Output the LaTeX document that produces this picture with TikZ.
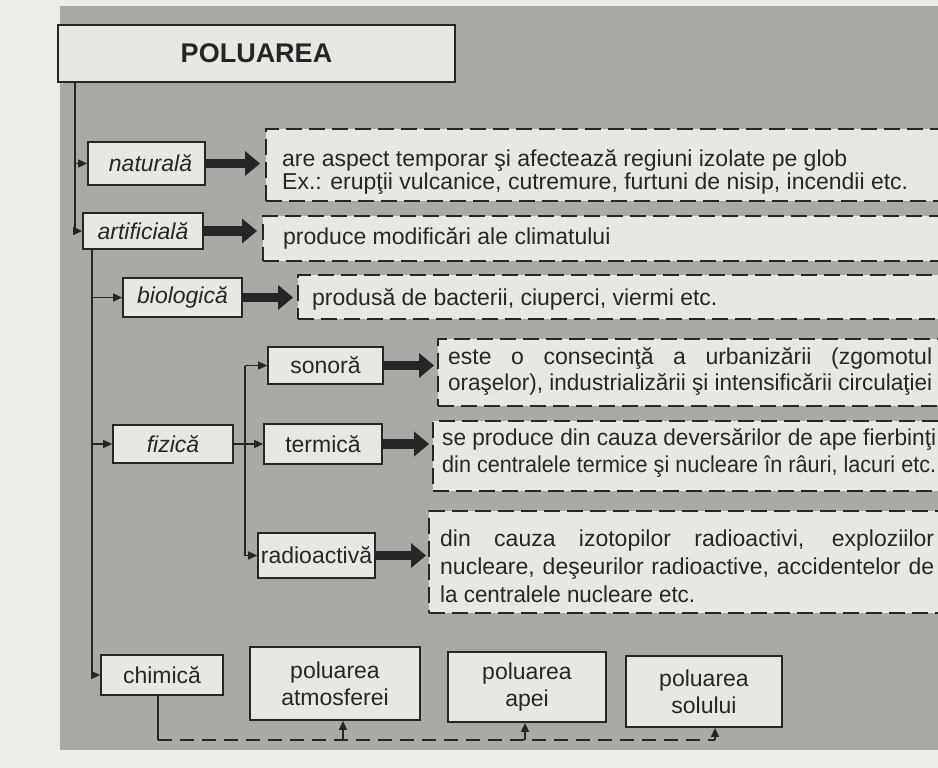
\documentclass[tikz,border=0pt]{standalone}
\usepackage{fontspec}
\usepackage{graphicx}
\setmainfont{Liberation Sans}
\usetikzlibrary{arrows.meta}
\definecolor{pagebg}{HTML}{EDEDEA}
\definecolor{panel}{HTML}{AAAAA5}
\definecolor{boxfill}{HTML}{E8E8E3}
\definecolor{ink}{HTML}{262626}
\newlength\fitlen
\newcommand\fitline[2]{\settowidth\fitlen{#2}\ifdim\fitlen>#1\relax\resizebox{#1}{\height}{#2}\else\makebox[#1][s]{#2}\fi}
\tikzset{
  txt/.style={font=\fontsize{23}{24}\selectfont, text=ink},
  box/.style={draw=ink, fill=boxfill, line width=1.7pt, inner sep=0pt, txt},
  lab/.style={box, font=\fontsize{23}{24}\selectfont\itshape},
  twoline/.style={box, align=center, font=\fontsize{23}{27}\selectfont},
  descbox/.style={draw=ink, fill=boxfill, line width=1.9pt, dash pattern=on 16pt off 7pt, inner sep=0pt, anchor=north west},
  link/.style={draw=ink, line width=1.5pt},
  thinarrow/.style={link, -{Triangle[length=9pt,width=8pt]}},
  bigarrow/.style={draw=ink, line width=9.5pt, -{Triangle[length=15pt,width=25pt,line width=0pt]}},
  dashline/.style={draw=ink, line width=1.7pt, dash pattern=on 14pt off 8pt},
}
\begin{document}
\begin{tikzpicture}[x=1pt,y=-1pt]
\useasboundingbox (0,0) rectangle (938,768);
\clip (0,0) rectangle (938,768);
\fill[pagebg] (0,0) rectangle (938,768);
\fill[panel] (60,6) rectangle (950,750);

% title
\node[box, line width=2.8pt, minimum width=397pt, minimum height=57pt, font=\bfseries\fontsize{27}{29}\selectfont] (pol) at (256.5,53.5) {POLUAREA};

% left boxes
\node[lab, minimum width=117pt, minimum height=43pt] (nat) at (146.5,163.5) {\hspace{8pt}naturală};
\node[lab, minimum width=120pt, minimum height=36pt] (art) at (143,231) {artificială};
\node[lab, minimum width=119pt, minimum height=39pt] (bio) at (182.5,297.5) {biologică};
\node[lab, minimum width=120pt, minimum height=38pt] (fiz) at (173,444) {fizică};
\node[box, minimum width=115pt, minimum height=37pt] (son) at (325.5,365.5) {sonoră\hspace{8pt}};
\node[box, minimum width=118pt, minimum height=40pt] (ter) at (323,444) {termică\hspace{14pt}};
\node[box, minimum width=117pt, minimum height=45pt] (rad) at (316.5,555.5) {radioactivă};
\node[box, minimum width=122pt, minimum height=40pt] (chim) at (162,675) {chimică};
\node[twoline, minimum width=170pt, minimum height=73pt] (atm) at (335,683.5) {poluarea\\atmosferei};
\node[twoline, minimum width=158pt, minimum height=70pt] (apa) at (527,687) {poluarea\\apei};
\node[twoline, minimum width=156pt, minimum height=71pt] (sol) at (704,691.5) {poluarea\\solului};

% description boxes (open to the right)
\node[descbox, minimum width=695pt, minimum height=72pt] (d1) at (265,128) {};
\node[descbox, minimum width=698pt, minimum height=45pt] (d2) at (262,215) {};
\node[descbox, minimum width=663pt, minimum height=44pt] (d3) at (297,274) {};
\node[descbox, minimum width=523pt, minimum height=67pt] (d4) at (437,338) {};
\node[descbox, minimum width=528pt, minimum height=70pt] (d5) at (432,420) {};
\node[descbox, minimum width=532pt, minimum height=102pt] (d6) at (428,510) {};

\node[txt, anchor=west, align=left, inner sep=0pt, font=\fontsize{23}{23}\selectfont] (t1) at ([xshift=17pt,yshift=-7pt]d1.west) {are aspect temporar şi afectează regiuni izolate pe glob\\Ex.: erupţii vulcanice, cutremure, furtuni de nisip, incendii etc.};
\node[txt, anchor=west, inner sep=0pt] (t2) at ([xshift=21pt]d2.west) {produce modificări ale climatului};
\node[txt, anchor=west, inner sep=0pt] (t3) at ([xshift=15pt,yshift=-2pt]d3.west) {produsă de bacterii, ciuperci, viermi etc.};
\node[txt, anchor=west, align=left, inner sep=0pt, font=\fontsize{23}{26}\selectfont] (t4) at ([xshift=11pt,yshift=1pt]d4.west) {\fitline{484pt}{este o consecinţă a urbanizării (zgomotul}\\\fitline{484pt}{oraşelor), industrializării şi intensificării circulaţiei}};
\node[txt, anchor=west, align=left, inner sep=0pt, font=\fontsize{23}{27}\selectfont] (t5) at ([xshift=10pt,yshift=3pt]d5.west) {\fitline{494pt}{se produce din cauza deversărilor de ape fierbinţi}\\\fitline{494pt}{din centralele termice şi nucleare în râuri, lacuri etc.}};
\node[txt, anchor=west, align=left, inner sep=0pt, font=\fontsize{23}{28}\selectfont] (t6) at ([xshift=12pt,yshift=-4pt]d6.west) {\fitline{494pt}{din cauza izotopilor radioactivi, exploziilor}\\\fitline{494pt}{nucleare, deşeurilor radioactive, accidentelor de}\\\resizebox{255pt}{\height}{la centralele nucleare etc.}};

% trunks
\coordinate (tr1) at (75,0);
\coordinate (tr2) at (92,0);
\coordinate (tr3) at (245,0);
\coordinate (bus) at (0,740);
\draw[thinarrow] (tr1 |- pol.south) |- (art.west);
\draw[thinarrow] (tr1 |- nat.west) -- (nat.west);
\draw[thinarrow] (tr2 |- art.south) |- (chim.west);
\draw[thinarrow] (tr2 |- bio.west) -- (bio.west);
\draw[thinarrow] (tr2 |- fiz.west) -- (fiz.west);
\draw[link] (fiz.east) -- (tr3 |- fiz.east);
\draw[thinarrow] (tr3 |- son.west) -- (son.west);
\draw[thinarrow] (tr3 |- son.west) |- (rad.west);
\draw[thinarrow] (tr3 |- ter.west) -- (ter.west);

% big arrows
\draw[bigarrow] (nat.east) -- ([xshift=-5pt]d1.west |- nat.east);
\draw[bigarrow] (art.east) -- ([xshift=-5pt]d2.west |- art.east);
\draw[bigarrow] (bio.east) -- ([xshift=-4pt]d3.west |- bio.east);
\draw[bigarrow] (son.east) -- ([xshift=-3pt]d4.west |- son.east);
\draw[bigarrow] (ter.east) -- ([xshift=-3pt]d5.west |- ter.east);
\draw[bigarrow] (rad.east) -- ([xshift=-2pt]d6.west |- rad.east);

% chemical bus
\coordinate (c0) at ([xshift=-4pt]chim.south);
\draw[link] (c0) -- (c0 |- bus);
\draw[dashline] (c0 |- bus) -- ([xshift=11pt]sol.south |- bus);
\draw[thinarrow] ([xshift=8pt]atm.south |- bus) -- ([xshift=8pt]atm.south);
\draw[thinarrow] ([xshift=-2pt]apa.south |- bus) -- ([xshift=-2pt]apa.south);
\draw[thinarrow] ([xshift=11pt]sol.south |- bus) -- ([xshift=11pt]sol.south);
\end{tikzpicture}
\end{document}
